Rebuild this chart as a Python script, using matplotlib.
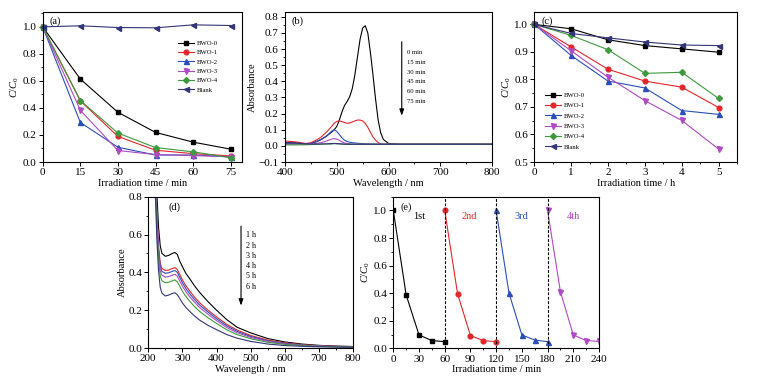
import matplotlib
matplotlib.use("Agg")
import matplotlib.pyplot as plt
from matplotlib.ticker import MultipleLocator

plt.rcParams['font.family'] = ['Liberation Serif', 'DejaVu Serif']
plt.rcParams['mathtext.fontset'] = 'custom'
plt.rcParams['mathtext.rm'] = 'Liberation Serif'
plt.rcParams['mathtext.it'] = 'Liberation Serif:italic'
plt.rcParams['font.size'] = 7.5

# ---------------- data ----------------
# (a) visible-light degradation, min
t_a = [0, 15, 30, 45, 60, 75]
a_bwo0 = [1.0, 0.614, 0.368, 0.219, 0.147, 0.095]
a_bwo1 = [1.0, 0.453, 0.189, 0.087, 0.062, 0.045]
a_bwo2 = [1.0, 0.293, 0.109, 0.052, 0.052, 0.037]
a_bwo3 = [1.0, 0.383, 0.085, 0.055, 0.047, 0.040]
a_bwo4 = [1.0, 0.455, 0.214, 0.107, 0.075, 0.032]
a_blank = [1.0, 1.008, 0.995, 0.993, 1.015, 1.010]

# (b) absorption spectra vs time
wl_b = [400, 420, 440, 450, 460, 470, 480, 490, 495, 500, 505, 510, 515, 520, 525, 530,
        535, 540, 545, 550, 555, 560, 565, 570, 575, 580, 585, 590, 600, 620, 700, 800]
b_0 = [0.020, 0.018, 0.012, 0.015, 0.025, 0.040, 0.060, 0.085, 0.100, 0.120, 0.160, 0.210,
       0.250, 0.275, 0.305, 0.355, 0.440, 0.550, 0.660, 0.730, 0.745, 0.700, 0.580, 0.440,
       0.290, 0.160, 0.080, 0.040, 0.015, 0.010, 0.010, 0.010]
b_15 = [0.030, 0.025, 0.015, 0.020, 0.035, 0.055, 0.085, 0.120, 0.140, 0.152, 0.155, 0.150,
        0.145, 0.140, 0.142, 0.148, 0.155, 0.160, 0.160, 0.155, 0.140, 0.115, 0.085, 0.055,
        0.035, 0.020, 0.013, 0.010, 0.010, 0.010, 0.010, 0.010]
b_30 = [0.015, 0.013, 0.012, 0.015, 0.025, 0.040, 0.060, 0.090, 0.100, 0.090, 0.070, 0.050,
        0.035, 0.027, 0.022, 0.020, 0.018, 0.016, 0.015, 0.014, 0.013, 0.012, 0.011, 0.011,
        0.010, 0.010, 0.010, 0.010, 0.010, 0.010, 0.010, 0.010]
b_45 = [0.010, 0.010, 0.010, 0.012, 0.015, 0.020, 0.030, 0.042, 0.045, 0.042, 0.035, 0.025,
        0.018, 0.014, 0.012, 0.011, 0.010, 0.010, 0.010, 0.010, 0.010, 0.010, 0.010, 0.010,
        0.010, 0.010, 0.010, 0.010, 0.010, 0.010, 0.010, 0.010]
b_60 = [0.006, 0.006, 0.007, 0.008, 0.009, 0.010, 0.011, 0.012, 0.014, 0.013, 0.012, 0.011,
        0.010, 0.010, 0.010, 0.010, 0.010, 0.010, 0.010, 0.010, 0.010, 0.010, 0.010, 0.010,
        0.010, 0.010, 0.010, 0.010, 0.010, 0.010, 0.010, 0.010]
b_75 = [0.020, 0.018, 0.012, 0.011, 0.011, 0.012, 0.013, 0.014, 0.015, 0.014, 0.013, 0.012,
        0.011, 0.010, 0.010, 0.010, 0.010, 0.010, 0.010, 0.010, 0.010, 0.010, 0.010, 0.010,
        0.010, 0.010, 0.010, 0.010, 0.010, 0.010, 0.010, 0.010]
b_labels = ["0 min", "15 min", "30 min", "45 min", "60 min", "75 min"]

# (c) degradation, h
t_c = [0, 1, 2, 3, 4, 5]
c_bwo0 = [1.0, 0.984, 0.944, 0.923, 0.911, 0.899]
c_bwo1 = [1.0, 0.918, 0.837, 0.794, 0.772, 0.698]
c_bwo2 = [1.0, 0.887, 0.794, 0.769, 0.687, 0.673]
c_bwo3 = [1.0, 0.904, 0.808, 0.723, 0.651, 0.547]
c_bwo4 = [1.0, 0.960, 0.908, 0.822, 0.826, 0.731]
c_blank = [1.0, 0.967, 0.951, 0.936, 0.925, 0.923]

# (d) absorption spectra vs time
wl_d = [215, 220, 225, 230, 235, 240, 250, 260, 270, 278, 285, 292, 300, 310, 320, 335,
        350, 375, 400, 430, 460, 500, 550, 600, 650, 700, 750, 800]
d_1h = [1.60, 1.10, 0.82, 0.64, 0.54, 0.50, 0.485, 0.49, 0.50, 0.505, 0.495, 0.46, 0.43,
        0.395, 0.37, 0.33, 0.295, 0.245, 0.20, 0.15, 0.11, 0.08, 0.05, 0.032, 0.021, 0.014,
        0.010, 0.008]
d_2h = [1.50, 1.00, 0.72, 0.54, 0.45, 0.42, 0.41, 0.412, 0.42, 0.425, 0.415, 0.39, 0.36,
        0.33, 0.305, 0.27, 0.24, 0.20, 0.165, 0.125, 0.095, 0.066, 0.042, 0.027, 0.018,
        0.012, 0.009, 0.007]
d_3h = [1.45, 0.98, 0.70, 0.52, 0.43, 0.405, 0.395, 0.398, 0.405, 0.41, 0.40, 0.375, 0.345,
        0.315, 0.29, 0.257, 0.228, 0.19, 0.155, 0.117, 0.088, 0.061, 0.038, 0.024, 0.016,
        0.011, 0.008, 0.006]
d_4h = [1.40, 0.95, 0.68, 0.50, 0.41, 0.385, 0.375, 0.378, 0.385, 0.39, 0.38, 0.355, 0.327,
        0.298, 0.274, 0.243, 0.215, 0.178, 0.145, 0.108, 0.081, 0.056, 0.035, 0.022, 0.015,
        0.010, 0.007, 0.006]
d_5h = [1.35, 0.90, 0.64, 0.47, 0.38, 0.355, 0.345, 0.348, 0.355, 0.36, 0.35, 0.327, 0.30,
        0.273, 0.25, 0.22, 0.194, 0.16, 0.13, 0.096, 0.071, 0.049, 0.030, 0.019, 0.013,
        0.009, 0.006, 0.005]
d_6h = [1.30, 0.85, 0.58, 0.41, 0.32, 0.29, 0.275, 0.28, 0.288, 0.292, 0.282, 0.262, 0.238,
        0.215, 0.196, 0.17, 0.148, 0.12, 0.097, 0.071, 0.052, 0.035, 0.021, 0.013, 0.009,
        0.006, 0.005, 0.004]
d_labels = ["1 h", "2 h", "3 h", "4 h", "5 h", "6 h"]

# (e) recycling runs
e_t1 = [0, 15, 30, 45, 60]
e_c1 = [1.0, 0.387, 0.097, 0.056, 0.048]
e_t2 = [60, 75, 90, 105, 120]
e_c2 = [1.0, 0.395, 0.092, 0.056, 0.048]
e_t3 = [120, 135, 150, 165, 180]
e_c3 = [1.0, 0.400, 0.097, 0.060, 0.048]
e_t4 = [180, 195, 210, 225, 240]
e_c4 = [1.0, 0.410, 0.097, 0.056, 0.050]
e_runs = ["1st", "2nd", "3rd", "4th"]
e_label_x = [30, 89, 149, 210]
e_dividers = [60, 120, 180]

series_names = ["BWO-0", "BWO-1", "BWO-2", "BWO-3", "BWO-4", "Blank"]

# ---------------- style ----------------
COLS = ['#000000', '#e4262b', '#2b4fb8', '#b04ac4', '#3c9a3c', '#343478']
MARK = ['s', 'o', '^', 'v', 'D', '<']
MSZ = [3.2, 3.4, 3.6, 3.6, 3.0, 3.6]

W, H = 776, 383
fig = plt.figure(figsize=(W / 100, H / 100), dpi=100)
fig.patch.set_facecolor('white')


def px_axes(x0, y0, x1, y1):
    return fig.add_axes([x0 / W, 1 - y1 / H, (x1 - x0) / W, (y1 - y0) / H])


def style(ax):
    for s in ax.spines.values():
        s.set_linewidth(0.8)
    ax.tick_params(which='major', direction='out', length=3, width=0.7, labelsize=8, pad=1.5)
    ax.tick_params(which='minor', direction='out', length=1.7, width=0.6)
    ax.tick_params(top=False, right=False)


cc0 = r'$C/C_\mathrm{0}$'

# ---- (a)
ax = px_axes(42.7, 12, 242, 162)
for vals, name, c, m, ms in zip([a_bwo0, a_bwo1, a_bwo2, a_bwo3, a_bwo4, a_blank],
                                series_names, COLS, MARK, MSZ):
    ax.plot(t_a, vals, color=c, marker=m, ms=ms, lw=0.8, label=name, clip_on=False)
ax.set_xlim(0, 79.5)
ax.set_ylim(0, 1.11)
ax.xaxis.set_major_locator(MultipleLocator(15))
ax.yaxis.set_major_locator(MultipleLocator(0.2))
ax.yaxis.set_minor_locator(MultipleLocator(0.1))
ax.set_xlabel('Irradiation time / min', labelpad=1)
ax.set_ylabel(cc0, labelpad=1)
ax.text(0.035, 0.97, '(a)', transform=ax.transAxes, ha='left', va='top', fontsize=7.5)
style(ax)
ax.legend(loc='upper left', bbox_to_anchor=(0.68, 0.81), frameon=False, fontsize=4.8,
          handlelength=2.4, handletextpad=0.4, labelspacing=0.55, borderaxespad=0,
          borderpad=0)

# ---- (b)
ax = px_axes(285, 12, 492, 162)
for vals, c in zip([b_0, b_15, b_30, b_45, b_60, b_75], COLS):
    ax.plot(wl_b, vals, color=c, lw=0.8)
ax.set_xlim(400, 800)
ax.set_ylim(-0.1, 0.83)
ax.xaxis.set_major_locator(MultipleLocator(100))
ax.xaxis.set_minor_locator(MultipleLocator(50))
ax.yaxis.set_major_locator(MultipleLocator(0.1))
ax.yaxis.set_minor_locator(MultipleLocator(0.05))
ax.set_xlabel('Wavelength / nm', labelpad=1)
ax.set_ylabel('Absorbance', labelpad=1)
ax.text(0.03, 0.97, '(b)', transform=ax.transAxes, ha='left', va='top', fontsize=7.5)
style(ax)
ax.annotate('', xy=(0.564, 0.29), xytext=(0.564, 0.82), xycoords='axes fraction',
            arrowprops=dict(arrowstyle='-|>,head_length=0.5,head_width=0.18', color='k', lw=0.8))
for i, lab in enumerate(b_labels):
    ax.text(0.59, 0.73 - i * 0.065, lab, transform=ax.transAxes, fontsize=4.8,
            ha='left', va='center')

# ---- (c)
ax = px_axes(534.3, 12, 737, 162)
for vals, name, c, m, ms in zip([c_bwo0, c_bwo1, c_bwo2, c_bwo3, c_bwo4, c_blank],
                                series_names, COLS, MARK, MSZ):
    ax.plot(t_c, vals, color=c, marker=m, ms=ms, lw=0.8, label=name, clip_on=False)
ax.set_xlim(0, 5.5)
ax.set_ylim(0.5, 1.045)
ax.xaxis.set_major_locator(MultipleLocator(1))
ax.xaxis.set_minor_locator(MultipleLocator(0.5))
ax.yaxis.set_major_locator(MultipleLocator(0.1))
ax.yaxis.set_minor_locator(MultipleLocator(0.05))
ax.set_xlabel('Irradiation time / h', labelpad=1)
ax.set_ylabel(cc0, labelpad=1)
ax.text(0.035, 0.97, '(c)', transform=ax.transAxes, ha='left', va='top', fontsize=7.5)
style(ax)
ax.legend(loc='upper left', bbox_to_anchor=(0.055, 0.465), frameon=False, fontsize=4.8,
          handlelength=2.4, handletextpad=0.4, labelspacing=0.7, borderaxespad=0,
          borderpad=0)

# ---- (d)
ax = px_axes(148.3, 196.7, 353, 348)
for vals, c in zip([d_1h, d_2h, d_3h, d_4h, d_5h, d_6h], COLS):
    ax.plot(wl_d, vals, color=c, lw=0.8)
ax.set_xlim(200, 800)
ax.set_ylim(0, 0.8)
ax.xaxis.set_major_locator(MultipleLocator(100))
ax.xaxis.set_minor_locator(MultipleLocator(50))
ax.yaxis.set_major_locator(MultipleLocator(0.2))
ax.yaxis.set_minor_locator(MultipleLocator(0.1))
ax.set_xlabel('Wavelength / nm', labelpad=1)
ax.set_ylabel('Absorbance', labelpad=1)
ax.text(0.1, 0.965, '(d)', transform=ax.transAxes, ha='left', va='top', fontsize=7.5)
style(ax)
ax.annotate('', xy=(0.453, 0.262), xytext=(0.453, 0.824), xycoords='axes fraction',
            arrowprops=dict(arrowstyle='-|>,head_length=0.5,head_width=0.18', color='k', lw=0.8))
for i, lab in enumerate(d_labels):
    ax.text(0.478, 0.745 - i * 0.068, lab, transform=ax.transAxes, fontsize=5.8,
            ha='left', va='center')

# ---- (e)
ax = px_axes(393.3, 196.7, 599, 348.3)
for tt, vals, c, m, ms in zip([e_t1, e_t2, e_t3, e_t4], [e_c1, e_c2, e_c3, e_c4],
                              COLS[:4], MARK[:4], MSZ[:4]):
    ax.plot(tt, vals, color=c, marker=m, ms=ms, lw=0.8)
for xv in e_dividers:
    ax.axvline(xv, color='k', ls=(0, (2.5, 1.5)), lw=0.8)
for xv, lab, c in zip(e_label_x, e_runs, COLS[:4]):
    ax.text(xv, 0.955, lab, color=c, fontsize=7.5, ha='center', va='center')
ax.set_xlim(0, 240)
ax.set_ylim(0, 1.1)
ax.xaxis.set_major_locator(MultipleLocator(30))
ax.xaxis.set_minor_locator(MultipleLocator(15))
ax.yaxis.set_major_locator(MultipleLocator(0.2))
ax.yaxis.set_minor_locator(MultipleLocator(0.1))
ax.set_xlabel('Irradiation time / min', labelpad=1)
ax.set_ylabel(cc0, labelpad=1)
ax.text(0.035, 0.965, '(e)', transform=ax.transAxes, ha='left', va='top', fontsize=7.5)
style(ax)

fig.savefig('out.png', dpi=100, facecolor='white')
